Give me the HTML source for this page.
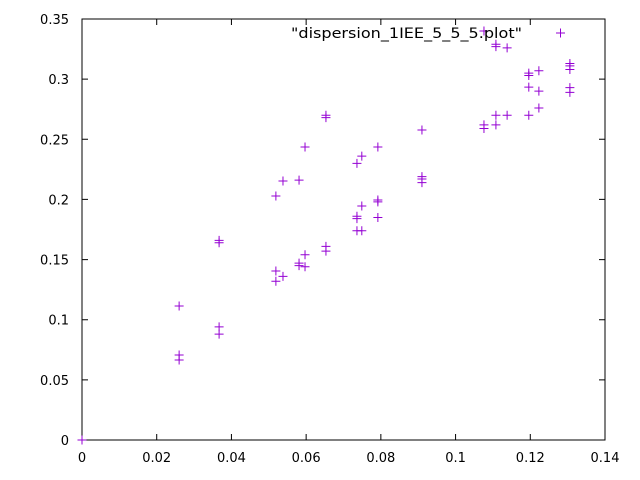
<!DOCTYPE html>
<html><head><meta charset="utf-8"><style>
html,body{margin:0;padding:0;background:#fff;}
svg{display:block;font-family:"DejaVu Sans","Liberation Sans",sans-serif;}
</style></head><body>
<svg id="chart" width="640" height="480">
<rect x="0" y="0" width="640" height="480" fill="#fff"/>
<g id="ticks"></g>
<g id="pts"></g>
<text x="522" y="38" text-anchor="end" font-size="14" textLength="231" lengthAdjust="spacingAndGlyphs" fill="#000">"dispersion_1IEE_5_5_5.plot"</text>
<path d="M556 33h9M560.5 28.5v9" stroke="#9400d3" stroke-width="1"/>
</svg>
<script>
const xTicks=[0,0.02,0.04,0.06,0.08,0.1,0.12,0.14];
const yTicks=[0,0.05,0.1,0.15,0.2,0.25,0.3,0.35];
const xTickLabels=["0","0.02","0.04","0.06","0.08","0.1","0.12","0.14"];
const yTickLabels=["0","0.05","0.1","0.15","0.2","0.25","0.3","0.35"];
const xs=[0,0.0597,0.0792,0.0749,0.0736,0.0538,0.0581,0.0519,0.0749,0.0792,0.0792,0.0736,0.0736,0.0792,0.0736,0.0749,0.0367,0.0367,0.0653,0.0653,0.0597,0.0581,0.0581,0.0597,0.0519,0.0538,0.0519,0.026,0.0367,0.0367,0.026,0.026,0.0653,0.0653,
0.1076,0.1108,0.1108,0.1138,0.1196,0.1196,0.1223,0.1306,0.1306,0.1306,0.1196,0.1223,0.1306,0.1306,0.1223,0.1196,0.1108,0.1108,0.1138,0.1076,0.1076,0.091,0.091,0.091,0.091];
const ys=[0,0.2436,0.2436,0.236,0.230,0.2153,0.216,0.2028,0.1945,0.1995,0.198,0.186,0.184,0.185,0.174,0.174,0.166,0.164,0.161,0.157,0.154,0.147,0.145,0.144,0.1405,0.136,0.132,0.1114,0.094,0.088,0.0707,0.0665,0.270,0.268,
0.340,0.329,0.327,0.326,0.305,0.303,0.307,0.313,0.311,0.308,0.2934,0.290,0.293,0.289,0.276,0.270,0.270,0.262,0.270,0.262,0.259,0.2577,0.219,0.217,0.214];
const L=82,R=605,T=19,B=440;
const sx=v=>L+(v-0)/(0.14)*(R-L);
const sy=v=>B-(v-0)/(0.35)*(B-T);
const NS="http://www.w3.org/2000/svg";
const tg=document.getElementById('ticks');
function mk(tag,attrs,parent){const e=document.createElementNS(NS,tag);for(const k in attrs)e.setAttribute(k,attrs[k]);parent.appendChild(e);return e;}
const frame=mk('rect',{x:L,y:T,width:R-L,height:B-T,fill:'none',stroke:'#000','stroke-width':1},tg);


xTicks.forEach((v,i)=>{const x=sx(v);
 mk('path',{d:`M${x} ${B}v-6M${x} ${T}v6`,stroke:'#000','stroke-width':1},tg);
 const t=mk('text',{x:x,y:B+22,'text-anchor':'middle','font-size':13},tg);t.textContent=xTickLabels[i];
 
 
});
yTicks.forEach((v,i)=>{const y=sy(v);
 mk('path',{d:`M${L} ${y}h6M${R} ${y}h-6`,stroke:'#000','stroke-width':1},tg);
 const t=mk('text',{x:L-13,y:y+5,'text-anchor':'end','font-size':13},tg);t.textContent=yTickLabels[i];
 
 
});
const pg=document.getElementById('pts');
xs.forEach((v,i)=>{const x=sx(v),y=sy(ys[i]);
 const p=mk('path',{d:`M${x-4.5} ${y}h9M${x} ${y-4.5}v9`,stroke:'#9400d3','stroke-width':1},pg);
 
 
});
</script>
</body></html>
